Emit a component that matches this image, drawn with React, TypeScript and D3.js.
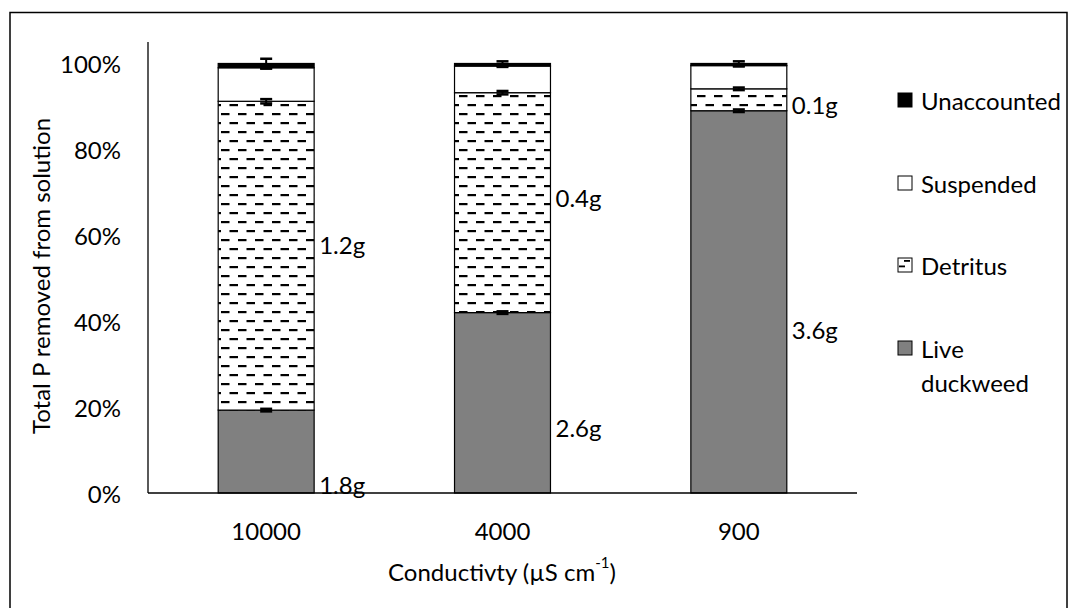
import React from "react";
import * as d3 from "d3";

// Conductivity treatments (µS cm-1)
const categories = ["10000", "4000", "900"];

// Stack components as fractions of total P removed from solution
const liveDuckweed = [0.193, 0.42, 0.89];
const detritus = [0.719, 0.512, 0.051];
const suspended = [0.078, 0.062, 0.054];
const unaccounted = [0.01, 0.006, 0.005];

// Error bar half-widths at the top of each stacked segment
const errLive = [0.003, 0.003, 0.003];
const errDetritus = [0.005, 0.004, 0.003];
const errSuspended = [0.002, 0.002, 0.002];
const errUnaccounted = [0.011, 0.005, 0.005];

// Mass labels (g) for live duckweed and detritus, with their anchor on the value axis
const liveLabels = ["1.8g", "2.6g", "3.6g"];
const liveLabelAt = [0.019, 0.152, 0.38];
const detritusLabels = ["1.2g", "0.4g", "0.1g"];
const detritusLabelAt = [0.578, 0.688, 0.904];

const yTicks = [0, 0.2, 0.4, 0.6, 0.8, 1.0];

const legendItems = [
  { key: "unaccounted", lines: ["Unaccounted"] },
  { key: "suspended", lines: ["Suspended"] },
  { key: "detritus", lines: ["Detritus"] },
  { key: "live", lines: ["Live", "duckweed"] },
];

const W = 1069;
const H = 608;
const FONT = "Lato, 'Open Sans', sans-serif";
const FS = 24;

const plot = { left: 148, right: 857, top: 42, bottom: 493 };

const fills: Record<string, string> = {
  live: "#808080",
  detritus: "url(#dashPattern)",
  suspended: "#ffffff",
  unaccounted: "#000000",
};

export default function App() {
  const y = d3.scaleLinear().domain([0, 1.05]).range([plot.bottom, plot.top]);
  const x = d3
    .scaleBand<string>()
    .domain(categories)
    .range([plot.left, plot.right])
    .paddingInner(0.594)
    .paddingOuter(0.297);
  const bw = x.bandwidth();

  const seriesKeys = ["live", "detritus", "suspended", "unaccounted"];
  const rows = categories.map((c, i) => ({
    cat: c,
    live: liveDuckweed[i],
    detritus: detritus[i],
    suspended: suspended[i],
    unaccounted: unaccounted[i],
  }));
  const stacked = d3.stack<any>().keys(seriesKeys)(rows);
  const errs: Record<string, number[]> = {
    live: errLive,
    detritus: errDetritus,
    suspended: errSuspended,
    unaccounted: errUnaccounted,
  };

  const legendX = 898;
  const legendRowsY = [100, 183, 265, 348];

  return (
    <svg
      width={W}
      height={H}
      style={{ position: "absolute", left: 0, top: 0, background: "#fff" }}
      fontFamily={FONT}
    >
      <defs>
        <pattern id="dashPattern" width={17} height={18} patternUnits="userSpaceOnUse" x={0} y={2}>
          <rect width={17} height={18} fill="#fff" />
          <rect x={0} y={3} width={8.5} height={2.2} fill="#000" />
          <rect x={8.5} y={12} width={8.5} height={2.2} fill="#000" />
        </pattern>
      </defs>
      <rect x={0} y={0} width={W} height={H} fill="#fff" />
      {/* chart frame */}
      <rect x={10} y={12.5} width={1057} height={620} fill="none" stroke="#000" strokeWidth={1.5} />

      {/* stacked bars */}
      {stacked.map((s) => (
        <g key={s.key}>
          {s.map((d, i) => (
            <rect
              key={i}
              x={x(categories[i])}
              y={y(d[1])}
              width={bw}
              height={y(d[0]) - y(d[1])}
              fill={fills[s.key]}
              stroke="#000"
              strokeWidth={1.2}
            />
          ))}
        </g>
      ))}

      {/* error bars */}
      {stacked.map((s) => (
        <g key={"e" + s.key} stroke="#000" strokeWidth={2}>
          {s.map((d, i) => {
            const cx = (x(categories[i]) as number) + bw / 2;
            const e = errs[s.key][i];
            const y0 = y(d[1] - e);
            const y1 = y(d[1] + e);
            return (
              <g key={i}>
                <line x1={cx} x2={cx} y1={y0} y2={y1} />
                <line x1={cx - 6} x2={cx + 6} y1={y0} y2={y0} strokeWidth={2.5} />
                <line x1={cx - 6} x2={cx + 6} y1={y1} y2={y1} strokeWidth={2.5} />
              </g>
            );
          })}
        </g>
      ))}

      {/* axes */}
      <line x1={plot.left} x2={plot.left} y1={plot.top} y2={plot.bottom} stroke="#000" strokeWidth={1.3} />
      <line x1={plot.left} x2={plot.right} y1={plot.bottom} y2={plot.bottom} stroke="#000" strokeWidth={1.3} />

      {yTicks.map((t) => (
        <text
          key={t}
          x={121}
          y={y(t)}
          textAnchor="end"
          dominantBaseline="central"
          fontSize={FS}
          fill="#000"
        >
          {d3.format(".0%")(t)}
        </text>
      ))}

      {categories.map((c) => (
        <text
          key={c}
          x={(x(c) as number) + bw / 2}
          y={530}
          textAnchor="middle"
          dominantBaseline="central"
          fontSize={FS}
          fill="#000"
        >
          {c}
        </text>
      ))}

      {/* value labels */}
      {categories.map((c, i) => (
        <g key={"l" + c} fontSize={FS} fill="#000">
          <text x={(x(c) as number) + bw + 5} y={y(liveLabelAt[i])} dominantBaseline="central">
            {liveLabels[i]}
          </text>
          <text x={(x(c) as number) + bw + 5} y={y(detritusLabelAt[i])} dominantBaseline="central">
            {detritusLabels[i]}
          </text>
        </g>
      ))}

      {/* axis titles */}
      <text x={502} y={571} textAnchor="middle" dominantBaseline="central" fontSize={FS} fill="#000">
        Conductivty (µS cm
        <tspan fontSize={15} dy={-9}>-1</tspan>
        <tspan dy={9}>)</tspan>
      </text>
      <text
        transform="translate(40,276) rotate(-90)"
        textAnchor="middle"
        dominantBaseline="central"
        fontSize={FS}
        fill="#000"
      >
        Total P removed from solution
      </text>

      {/* legend */}
      {legendItems.map((it, i) => (
        <g key={it.key}>
          <rect
            x={legendX}
            y={legendRowsY[i] - 7}
            width={14}
            height={14}
            fill={it.key === "detritus" ? "#fff" : fills[it.key]}
            stroke="#000"
            strokeWidth={1}
          />
          {it.key === "detritus" && (
            <g fill="#000">
              <rect x={legendX + 6} y={legendRowsY[i] - 5} width={6} height={1.8} />
              <rect x={legendX + 1} y={legendRowsY[i] + 0.5} width={6} height={1.8} />
            </g>
          )}
          {it.lines.map((ln, j) => (
            <text
              key={j}
              x={legendX + 23}
              y={legendRowsY[i] + j * 34}
              dominantBaseline="central"
              fontSize={FS}
              fill="#000"
            >
              {ln}
            </text>
          ))}
        </g>
      ))}
    </svg>
  );
}
